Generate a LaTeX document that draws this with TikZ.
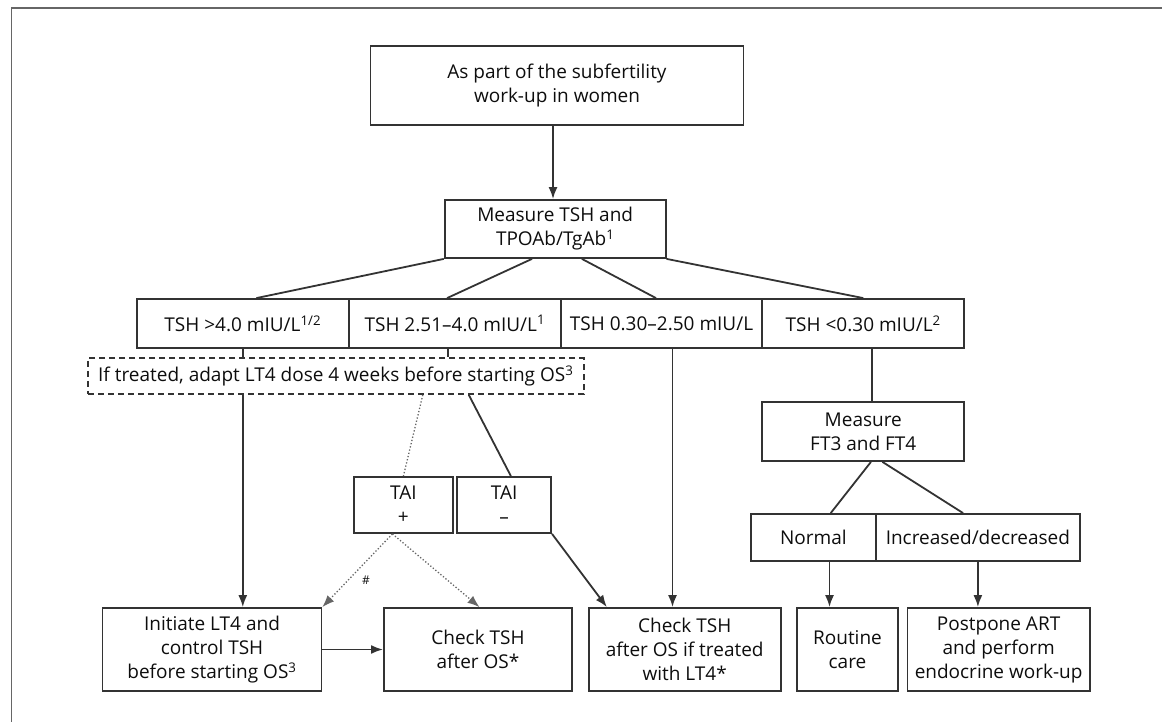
\documentclass[tikz,border=0pt]{standalone}
\usepackage{fontspec}
\setmainfont{Open Sans}
\usetikzlibrary{arrows.meta,calc}
\begin{document}
\begin{tikzpicture}[x=1pt,y=-1pt,
  every node/.style={font=\fontsize{19}{24}\selectfont, text=black!95},
  box/.style={draw=black!80, line width=1.8pt, inner sep=0pt, align=center},
  conn/.style={draw=black!80, line width=1.8pt},
  arr/.style={conn, -{Latex[length=12pt,width=9pt]}},
  dot/.style={draw=black!60, line width=1.3pt, dotted},
  darr/.style={dot, -{Latex[length=12pt,width=9pt]}}]
\useasboundingbox (0,0) rectangle (1162,722);
\draw[black!60, line width=1.6pt] (1162,8) -- (11.5,8) -- (11.5,722);
% nodes
\node[box, minimum width=373, minimum height=79] (top) at (557,85.5) {As part of the subfertility\\work-up in women};
\node[box, minimum width=221, minimum height=58] (meas) at (555.2,229) {Measure TSH and\\TPOAb/TgAb\textsuperscript{1}};
\node[box, minimum width=212.4, minimum height=49] (t1) at (242.8,323.5) {TSH {>}4.0 mIU/L\textsuperscript{1/2}};
\node[box, minimum width=211.7, minimum height=49] (t2) at (454.85,323.5) {TSH 2.51–4.0 mIU/L\textsuperscript{1}};
\node[box, minimum width=201.6, minimum height=49] (t3) at (661.5,323.5) {TSH 0.30–2.50 mIU/L};
\node[box, minimum width=201.9, minimum height=49] (t4) at (863.25,323.5) {TSH {<}0.30 mIU/L\textsuperscript{2}};
\node[box, dashed, dash pattern=on 6pt off 4pt, minimum width=495.6, minimum height=36] (dash) at (335.8,376) {If treated, adapt LT4 dose 4 weeks before starting OS\textsuperscript{3}};
\node[box, minimum width=98.7, minimum height=56] (taip) at (403.4,505) {TAI\\+};
\node[box, minimum width=93.8, minimum height=56] (taim) at (504.2,505) {TAI\\–};
\node[box, minimum width=218.9, minimum height=83] (init) at (212,649.5) {Initiate LT4 and\\control TSH\\before starting OS\textsuperscript{3}};
\node[box, minimum width=188.2, minimum height=83] (chk1) at (478,649.5) {Check TSH\\after OS*};
\node[box, minimum width=191.9, minimum height=83] (chk2) at (684.7,649.5) {Check TSH\\after OS if treated\\with LT4*};
\node[box, minimum width=201.9, minimum height=59] (ft) at (863.25,431.5) {Measure\\FT3 and FT4};
\node[box, minimum width=124.4, minimum height=47] (norm) at (813.4,537.5) {Normal};
\node[box, minimum width=204.6, minimum height=47] (incr) at (977.9,537.5) {Increased/decreased};
\node[box, minimum width=100.5, minimum height=83] (rout) at (847.5,649.5) {Routine\\care};
\node[box, minimum width=182.4, minimum height=83] (post) at (998.6,649.5) {Postpone ART\\and perform\\endocrine work-up};
% connectors
\draw[arr] ([xshift=-4]top.south) -- ([xshift=-4]top.south |- meas.north);
\draw[conn] (meas.south west) -- ([xshift=13.6]t1.north);
\draw[conn] ([xshift=-23.2]meas.south) -- ([xshift=-7.8]t2.north);
\draw[conn] ([xshift=26.7]meas.south) -- ([xshift=-5.5]t3.north);
\draw[conn] (meas.south east) -- (t4.north);
\draw[conn] (t1.south) -- (t1.south |- dash.north);
\draw[conn] ([xshift=-7]t2.south) -- ([xshift=-7]t2.south |- dash.north);
\draw[arr] (t1.south |- dash.south) -- (t1.south |- init.north);
\draw[dot] ([xshift=87]dash.south) -- (taip.north);
\draw[conn] ([xshift=133]dash.south) -- ([xshift=6.7]taim.north);
\draw[darr] ([xshift=-11]taip.south) -- (init.north east);
\draw[darr] ([xshift=-11]taip.south) -- ([xshift=1.5]chk1.north);
\node[font=\fontsize{12}{12}\selectfont] (hash) at (366,580) {\#};
\draw[arr] (taim.south east) -- ([xshift=19]chk2.north west);
\draw[arr] ([xshift=11]t3.south) -- ([xshift=11]t3.south |- chk2.north);
\draw[arr] (init.east) -- (chk1.west);
\draw[conn] ([xshift=8.9]t4.south) -- ([xshift=8.9]t4.south |- ft.north);
\draw[conn] ([xshift=7.7]ft.south) -- ([xshift=17.3]norm.north);
\draw[conn] ([xshift=19.2]ft.south) -- ([xshift=-14.8]incr.north);
\draw[arr] ([xshift=16.1]norm.south) -- ([xshift=16.1]norm.south |- rout.north);
\draw[arr] (incr.south) -- (incr.south |- post.north);
\end{tikzpicture}
\end{document}
